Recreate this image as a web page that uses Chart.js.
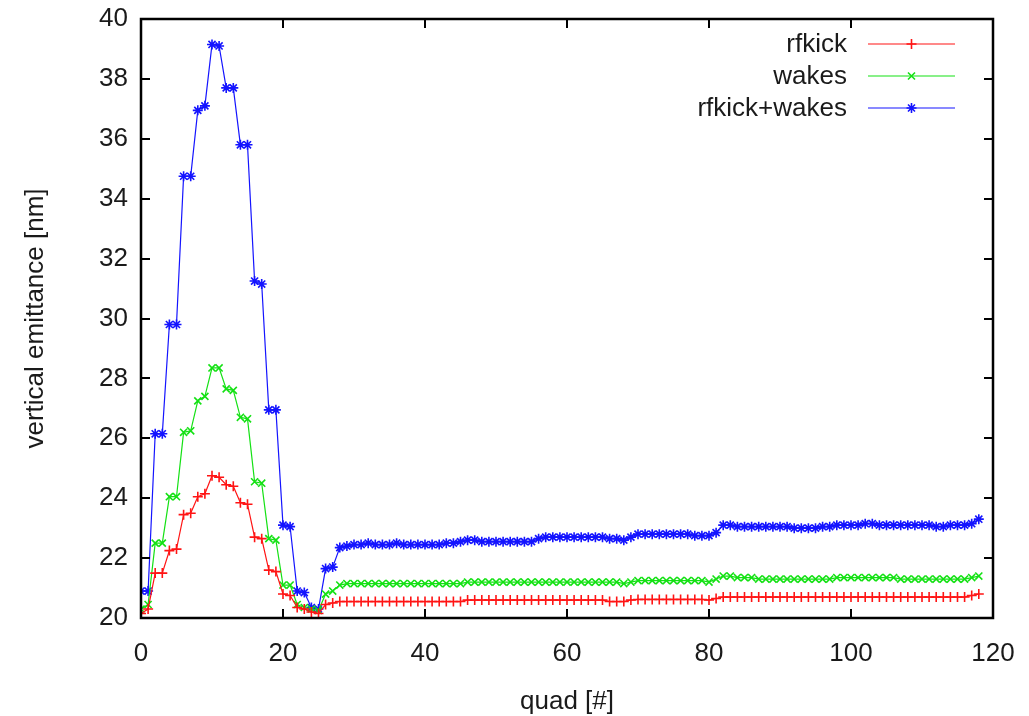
<!DOCTYPE html>
<html>
<head>
<meta charset="utf-8">
<script src="https://cdn.jsdelivr.net/npm/chart.js@4/dist/chart.umd.min.js"></script>
<style>
  body { margin: 0; background: #fff; }
  #wrap { width: 1029px; height: 716px; }
</style>
</head>
<body>
<div id="wrap"><canvas id="chart" width="1029" height="716"></canvas></div>
<script>
'use strict';

// Data
let quads = [
  0, 1, 2, 3, 4, 5, 6, 7, 8, 9, 10, 11, 12, 13, 14, 15, 16, 17, 18, 19,
  20, 21, 22, 23, 24, 25, 26, 27, 28, 29, 30, 31, 32, 33, 34, 35, 36, 37, 38, 39,
  40, 41, 42, 43, 44, 45, 46, 47, 48, 49, 50, 51, 52, 53, 54, 55, 56, 57, 58, 59,
  60, 61, 62, 63, 64, 65, 66, 67, 68, 69, 70, 71, 72, 73, 74, 75, 76, 77, 78, 79,
  80, 81, 82, 83, 84, 85, 86, 87, 88, 89, 90, 91, 92, 93, 94, 95, 96, 97, 98, 99,
  100, 101, 102, 103, 104, 105, 106, 107, 108, 109, 110, 111, 112, 113, 114, 115, 116, 117, 118
];

let rfkick = [
  20.15, 20.3, 21.5, 21.5, 22.25, 22.3, 23.45, 23.5, 24.05, 24.15,
  24.75, 24.7, 24.45, 24.4, 23.85, 23.8, 22.7, 22.65, 21.6, 21.55,
  20.8, 20.75, 20.35, 20.3, 20.2, 20.15, 20.45, 20.5, 20.55, 20.55,
  20.55, 20.55, 20.55, 20.55, 20.55, 20.55, 20.55, 20.55, 20.55, 20.55,
  20.55, 20.55, 20.55, 20.55, 20.55, 20.55, 20.6, 20.6, 20.6, 20.6,
  20.6, 20.6, 20.6, 20.6, 20.6, 20.6, 20.6, 20.6, 20.6, 20.6,
  20.6, 20.6, 20.6, 20.6, 20.6, 20.6, 20.55, 20.55, 20.55, 20.6,
  20.62, 20.62, 20.62, 20.62, 20.62, 20.62, 20.62, 20.62, 20.62, 20.62,
  20.6, 20.65, 20.7, 20.7, 20.7, 20.7, 20.7, 20.7, 20.7, 20.7,
  20.7, 20.7, 20.7, 20.7, 20.7, 20.7, 20.7, 20.7, 20.7, 20.7,
  20.7, 20.7, 20.7, 20.7, 20.7, 20.7, 20.7, 20.7, 20.7, 20.7,
  20.7, 20.7, 20.7, 20.7, 20.7, 20.7, 20.7, 20.75, 20.8
];

let wakes = [
  20.3, 20.45, 22.5, 22.5, 24.05, 24.05, 26.2, 26.25, 27.25, 27.4,
  28.35, 28.35, 27.65, 27.6, 26.7, 26.65, 24.55, 24.5, 22.65, 22.6,
  21.1, 21.1, 20.45, 20.35, 20.3, 20.25, 20.8, 20.9, 21.1, 21.15,
  21.15, 21.15, 21.15, 21.15, 21.15, 21.15, 21.15, 21.15, 21.15, 21.15,
  21.15, 21.15, 21.15, 21.15, 21.15, 21.15, 21.2, 21.2, 21.2, 21.2,
  21.2, 21.2, 21.2, 21.2, 21.2, 21.2, 21.2, 21.2, 21.2, 21.2,
  21.2, 21.2, 21.2, 21.2, 21.2, 21.2, 21.2, 21.2, 21.15, 21.2,
  21.25, 21.25, 21.25, 21.25, 21.25, 21.25, 21.25, 21.25, 21.25, 21.25,
  21.2, 21.3, 21.4, 21.4, 21.35, 21.35, 21.35, 21.3, 21.3, 21.3,
  21.3, 21.3, 21.3, 21.3, 21.3, 21.3, 21.3, 21.3, 21.35, 21.35,
  21.35, 21.35, 21.35, 21.35, 21.35, 21.35, 21.35, 21.3, 21.3, 21.3,
  21.3, 21.3, 21.3, 21.3, 21.3, 21.3, 21.3, 21.35, 21.4
];

let rfkickWakes = [
  20.9, 20.9, 26.15, 26.15, 29.8, 29.8, 34.75, 34.75, 36.95, 37.1,
  39.15, 39.1, 37.7, 37.7, 35.8, 35.8, 31.25, 31.15, 26.95, 26.95,
  23.1, 23.05, 20.9, 20.85, 20.35, 20.3, 21.65, 21.7, 22.35, 22.4,
  22.45, 22.45, 22.5, 22.45, 22.45, 22.45, 22.5, 22.45, 22.45, 22.45,
  22.45, 22.45, 22.45, 22.5, 22.5, 22.55, 22.6, 22.6, 22.55, 22.55,
  22.55, 22.55, 22.55, 22.55, 22.55, 22.55, 22.65, 22.7, 22.7, 22.7,
  22.7, 22.7, 22.7, 22.7, 22.7, 22.7, 22.65, 22.65, 22.6, 22.7,
  22.8, 22.8, 22.8, 22.8, 22.8, 22.8, 22.8, 22.8, 22.75, 22.75,
  22.75, 22.85, 23.1, 23.1, 23.05, 23.05, 23.05, 23.05, 23.05, 23.05,
  23.05, 23.05, 23.0, 23.0, 23.0, 23.0, 23.05, 23.05, 23.1, 23.1,
  23.1, 23.1, 23.15, 23.15, 23.1, 23.1, 23.1, 23.1, 23.1, 23.1,
  23.1, 23.1, 23.05, 23.05, 23.1, 23.1, 23.1, 23.15, 23.3
];

let seriesNames = ['rfkick', 'wakes', 'rfkick+wakes'];
let xTicks = [0, 20, 40, 60, 80, 100, 120];
let yTicks = [20, 22, 24, 26, 28, 30, 32, 34, 36, 38, 40];

// Styles
const textColor = '#1a1a1a';
const fontFamily = '"Liberation Sans", Arial, Helvetica, sans-serif';
const colors = ['rgb(255,20,20)', 'rgb(20,225,20)', 'rgb(20,20,255)'];
const markers = ['cross', 'crossRot', 'star'];

function toPoints(values) {
  let pts = [];
  for (let i = 0; i < values.length; i++) {
    pts.push({ x: quads[i], y: values[i] });
  }
  return pts;
}

function makeDataset(i, values) {
  return {
    label: seriesNames[i],
    data: toPoints(values),
    borderColor: colors[i],
    backgroundColor: colors[i],
    borderWidth: 1.2,
    pointStyle: markers[i],
    pointRadius: 5,
    pointBorderWidth: 1.6,
    pointBorderColor: colors[i],
    pointHoverRadius: 5,
    tension: 0
  };
}

// draw one gnuplot style marker
function drawMarker(ctx, style, x, y, r) {
  ctx.beginPath();
  if (style === 'cross' || style === 'star') {
    ctx.moveTo(x - r, y); ctx.lineTo(x + r, y);
    ctx.moveTo(x, y - r); ctx.lineTo(x, y + r);
  }
  if (style === 'crossRot' || style === 'star') {
    let d = r * 0.7;
    ctx.moveTo(x - d, y - d); ctx.lineTo(x + d, y + d);
    ctx.moveTo(x - d, y + d); ctx.lineTo(x + d, y - d);
  }
  ctx.stroke();
}

// border, inward ticks on all sides, legend inside the plot
const framePlugin = {
  id: 'frame',
  afterDatasetsDraw(chart) {
    const { ctx, chartArea: a, scales } = chart;
    const tickLen = 9;
    ctx.save();
    ctx.strokeStyle = '#000';
    ctx.lineWidth = 2;
    ctx.beginPath();
    xTicks.forEach(v => {
      let px = Math.round(scales.x.getPixelForValue(v));
      ctx.moveTo(px, a.bottom); ctx.lineTo(px, a.bottom - tickLen);
      ctx.moveTo(px, a.top); ctx.lineTo(px, a.top + tickLen);
    });
    yTicks.forEach(v => {
      let py = Math.round(scales.y.getPixelForValue(v));
      ctx.moveTo(a.left, py); ctx.lineTo(a.left + tickLen, py);
      ctx.moveTo(a.right, py); ctx.lineTo(a.right - tickLen, py);
    });
    ctx.stroke();
    ctx.lineWidth = 2.5;
    ctx.strokeRect(a.left, a.top, a.right - a.left, a.bottom - a.top);

    // legend
    ctx.font = '26px ' + fontFamily;
    ctx.textAlign = 'right';
    ctx.textBaseline = 'middle';
    let textRight = a.right - 146;
    let lineStart = a.right - 125;
    let lineEnd = a.right - 38;
    for (let i = 0; i < seriesNames.length; i++) {
      let rowY = a.top + 25 + i * 32;
      ctx.fillStyle = textColor;
      ctx.fillText(seriesNames[i], textRight, rowY + 1);
      ctx.strokeStyle = colors[i];
      ctx.lineWidth = 1.2;
      ctx.beginPath();
      ctx.moveTo(lineStart, rowY); ctx.lineTo(lineEnd, rowY);
      ctx.stroke();
      ctx.lineWidth = 1.6;
      drawMarker(ctx, markers[i], (lineStart + lineEnd) / 2, rowY, 5);
    }
    ctx.restore();
  }
};

const ctx = document.getElementById('chart').getContext('2d');

// eslint-disable-next-line no-unused-vars
const myChart = new Chart(ctx, {
  type: 'line',
  data: {
    datasets: [
      makeDataset(0, rfkick),
      makeDataset(1, wakes),
      makeDataset(2, rfkickWakes)
    ]
  },
  options: {
    responsive: false,
    animation: false,
    devicePixelRatio: 1,
    layout: { padding: { left: 0, right: 36, top: 19, bottom: 0 } },
    plugins: {
      legend: { display: false },
      tooltip: { enabled: false }
    },
    scales: {
      x: {
        type: 'linear',
        min: 0,
        max: 120,
        afterBuildTicks: s => { s.ticks = xTicks.map(v => ({ value: v })); },
        afterFit: s => { s.height = 98; s.paddingLeft = 0; s.paddingRight = 0; },
        grid: { display: false, drawTicks: false },
        border: { display: false },
        ticks: {
          color: textColor,
          padding: 20,
          maxRotation: 0,
          font: { family: fontFamily, size: 26, lineHeight: 1.2 }
        },
        title: {
          display: true,
          text: 'quad [#]',
          color: textColor,
          padding: { top: 0, bottom: 0 },
          font: { family: fontFamily, size: 26, lineHeight: 1.1 }
        }
      },
      y: {
        type: 'linear',
        min: 20,
        max: 40,
        afterBuildTicks: s => { s.ticks = yTicks.map(v => ({ value: v })); },
        afterFit: s => { s.width = 141; s.paddingTop = 0; s.paddingBottom = 0; },
        grid: { display: false, drawTicks: false },
        border: { display: false },
        ticks: {
          color: textColor,
          padding: 13,
          font: { family: fontFamily, size: 26, lineHeight: 1.2 }
        },
        title: {
          display: true,
          text: 'vertical emittance [nm]',
          color: textColor,
          padding: { top: 20, bottom: 0 },
          font: { family: fontFamily, size: 26, lineHeight: 1.2 }
        }
      }
    }
  },
  plugins: [framePlugin]
});
</script>
</body>
</html>
